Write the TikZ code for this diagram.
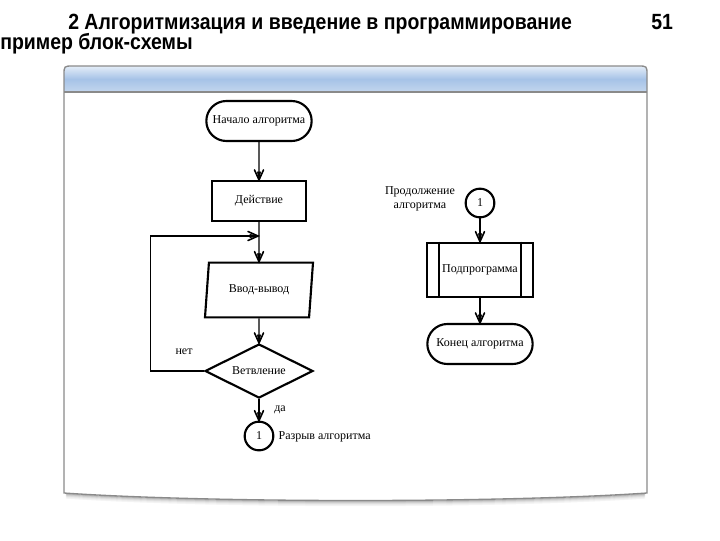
\documentclass[tikz,border=0pt]{standalone}
\usepackage{fontspec}
\usepackage{graphicx}
\setmainfont{Liberation Serif}
\newfontfamily\headfont{Liberation Sans}
\usetikzlibrary{positioning, shapes.geometric, shapes.misc}

\definecolor{bandtop}{HTML}{E4EDF8}
\definecolor{bandmid}{HTML}{A6C3E7}
\definecolor{bandbot}{HTML}{C3D6EE}
\definecolor{frame}{HTML}{8A8A8A}

% open V heads with a thin solid core, drawn at an anchor
\newcommand{\downhead}[1]{%
  \draw[vhead] ([shift={(-4.5,10)}]#1) -- (#1) -- ([shift={(4.5,10)}]#1);
  \filldraw[line width=0.4pt] (#1) -- ([shift={(-1.6,8)}]#1) -- ([shift={(1.6,8)}]#1) -- cycle;}
\newcommand{\righthead}[1]{%
  \draw[vhead] ([shift={(-10,4.5)}]#1) -- (#1) -- ([shift={(-10,-4.5)}]#1);
  \filldraw[line width=0.4pt] (#1) -- ([shift={(-8,1.6)}]#1) -- ([shift={(-8,-1.6)}]#1) -- cycle;}

\begin{document}
\begin{tikzpicture}[
      x=0.75pt, y=0.75pt,
      blk/.style={draw, line width=1.6pt, font=\fontsize{9}{10}\selectfont, align=center, inner sep=1pt},
      term/.style={blk, rounded rectangle, minimum width=81pt, minimum height=30pt},
      act/.style={blk, rectangle, minimum width=70.5pt, minimum height=30pt},
      io/.style={blk, trapezium, trapezium left angle=73, trapezium right angle=107,
                 trapezium stretches body, minimum width=81pt, minimum height=41pt},
      dec/.style={blk, diamond, aspect=2, minimum width=81pt, minimum height=40.5pt},
      conn/.style={blk, circle, minimum size=21.5pt},
      subr/.style={blk, rectangle, minimum width=80pt, minimum height=41pt},
      arr/.style={line width=0.8pt},
      vhead/.style={line width=1.2pt, line join=miter, line cap=round},
      txt/.style={font=\fontsize{9}{10.5}\selectfont, inner sep=1pt},
      title/.style={font=\headfont\bfseries\fontsize{16.5}{18}\selectfont, inner sep=0pt}]

    \useasboundingbox (0,-540) rectangle (720,0);

    % ============================================
    % heading
    % ============================================
    \node[title, anchor=base west] (head) at (68,-29) {\scalebox{0.885}[1]{2 Алгоритмизация и введение в программирование}};
    \node[title, anchor=base west] (pageno) at (651,-29) {\scalebox{0.885}[1]{51}};
    \node[title, anchor=base west] (subhead) at (0,-49) {\scalebox{0.885}[1]{пример блок-схемы}};

    % ============================================
    % window frame
    % ============================================
    \def\panel{(64,-493) -- (64,-75) .. controls (64,-66) .. (73,-66) -- (638,-66)
               .. controls (647,-66) .. (647,-75) -- (647,-493)
               .. controls (500,-503) and (211,-503) .. (64,-493) -- cycle}
    \foreach \o/\sh in {5/4, 4/7, 3/12, 2/19, 1/28} {
        \draw[black!\sh, line width=1pt] (66,-493-\o) .. controls (211,-503-\o) and (500,-503-\o) .. (645,-493-\o);
    }
    \fill[white] \panel;
    \begin{scope}
        \clip \panel;
        \shade[top color=bandtop, bottom color=bandbot, middle color=bandmid] (64,-66) rectangle (647,-92);
    \end{scope}
    \draw[frame, line width=0.8pt] (64,-92) -- (647,-92);
    \draw[frame, line width=1pt] \panel;

    % ============================================
    % left column
    % ============================================
    \node[term] (start) at (259,-121) {Начало алгоритма};
    \node[act]  (work)  at (259,-201) {Действие};
    \node[io]   (inout) at (259,-290) {Ввод-вывод};
    \node[dec]  (fork)  at (259,-371) {Ветвление};
    \node[conn] (brk)   at (259,-436) {1};
    \coordinate (back) at (258,-236);

    \draw[arr] (start) -- (work.north);
    \draw[arr] (work) -- (inout.north);
    \draw[arr] (inout) -- (fork.north);
    \draw[arr] (fork) -- (brk.north);
    \draw[arr] (fork.west) -- ++(-53,0) |- (back);
    \downhead{work.north}
    \downhead{inout.north}
    \downhead{fork.north}
    \downhead{brk.north}
    \righthead{back}

    \node[txt] (no)  at (184,-352) {нет};
    \node[txt] (yes) at (280,-410) {да};
    \node[txt, anchor=west] (brklbl) at (277,-437) {Разрыв алгоритма};

    % ============================================
    % right column
    % ============================================
    \node[conn] (cont) at (480,-203) {1};
    \node[txt, align=center] (contlbl) at (420,-199) {Продолжение\\алгоритма};
    \node[subr] (proc) at (480,-270) {Подпрограмма};
    \draw[line width=1.6pt] ([xshift=9.75pt]proc.north west) -- ([xshift=9.75pt]proc.south west);
    \draw[line width=1.6pt] ([xshift=-9.75pt]proc.north east) -- ([xshift=-9.75pt]proc.south east);
    \node[term] (stop) at (480,-344) {Конец алгоритма};

    \draw[arr] (cont) -- (proc.north);
    \draw[arr] (proc) -- (stop.north);
    \downhead{proc.north}
    \downhead{stop.north}

\end{tikzpicture}
\end{document}
